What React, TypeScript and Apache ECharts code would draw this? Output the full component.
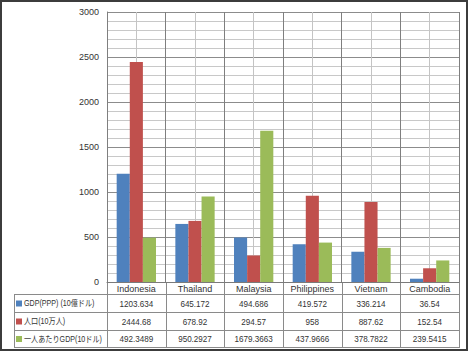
import React, { useEffect, useRef } from "react";
import * as echarts from "echarts";

const categories = ["Indonesia", "Thailand", "Malaysia", "Philippines", "Vietnam", "Cambodia"];
const seriesNames = ["GDP(PPP) (10億ドル)", "人口(10万人)", "一人あたりGDP(10ドル)"];
const gdpPPP = [1203.634, 645.172, 494.686, 419.572, 336.214, 36.54];
const population = [2444.68, 678.92, 294.57, 958, 887.62, 152.54];
const gdpPerCapita = [492.3489, 950.2927, 1679.3663, 437.9666, 378.7822, 239.5415];
const seriesValues = [gdpPPP, population, gdpPerCapita];
const colors = ["#4F81BD", "#C0504D", "#9BBB59"];
const yMin = 0;
const yMax = 3000;
const yInterval = 500;

const FONT = "'Liberation Sans Narrow', 'Liberation Sans', 'Noto Sans CJK JP', sans-serif";
const GRID_L = 107;
const GRID_R = 459;
const GRID_T = 12;
const GRID_B = 282;
const TABLE_L = 14;
const ROW_LINES = [294, 312, 330, 347];
const LINE_C = "#8a8a8a";
const TEXT_C = "#333333";

export default function App() {
  const ref = useRef<HTMLDivElement>(null);
  useEffect(() => {
    if (!ref.current) return;
    const chart = echarts.init(ref.current, null, { renderer: "svg" });
    const colW = (GRID_R - GRID_L) / categories.length;
    const graphics: any[] = [];
    graphics.push({
      type: "rect",
      shape: { x: 1, y: 1, width: 466, height: 349 },
      style: { fill: "none", stroke: "#3c3c3c", lineWidth: 2 },
      silent: true,
    });
    ROW_LINES.forEach((y) => {
      graphics.push({
        type: "line",
        shape: { x1: TABLE_L, y1: y + 0.5, x2: GRID_R, y2: y + 0.5 },
        style: { stroke: LINE_C, lineWidth: 1 },
      });
    });
    graphics.push({
      type: "line",
      shape: { x1: TABLE_L + 0.5, y1: ROW_LINES[0], x2: TABLE_L + 0.5, y2: ROW_LINES[3] + 1 },
      style: { stroke: LINE_C, lineWidth: 1 },
    });
    for (let i = 0; i <= categories.length; i++) {
      const x = Math.round(GRID_L + i * colW) + 0.5;
      graphics.push({
        type: "line",
        shape: { x1: x, y1: GRID_B, x2: x, y2: ROW_LINES[3] + 1 },
        style: { stroke: LINE_C, lineWidth: 1 },
      });
    }
    seriesNames.forEach((name, r) => {
      const cy = (ROW_LINES[r] + ROW_LINES[r + 1]) / 2 + 0.5;
      graphics.push({
        type: "rect",
        shape: { x: 16, y: cy - 3, width: 6, height: 6 },
        style: { fill: colors[r] },
      });
      graphics.push({
        type: "text",
        x: 24,
        y: cy,
        scaleX: 0.84,
        style: {
          text: name,
          fill: TEXT_C,
          font: `8.5px ${FONT}`,
          verticalAlign: "middle",
          align: "left",
        },
      });
      seriesValues[r].forEach((v, c) => {
        graphics.push({
          type: "text",
          x: GRID_L + (c + 0.5) * colW,
          y: cy,
          scaleX: 0.9,
          style: {
            text: String(v),
            fill: TEXT_C,
            font: `9px ${FONT}`,
            verticalAlign: "middle",
            align: "center",
          },
        });
      });
    });

    chart.setOption({
      animation: false,
      backgroundColor: "#ffffff",
      grid: { left: GRID_L, top: GRID_T, width: GRID_R - GRID_L, height: GRID_B - GRID_T, containLabel: false },
      xAxis: [
        {
          type: "value",
          position: "bottom",
          min: 0,
          max: categories.length * 2,
          interval: 1,
          axisLine: { show: false },
          axisTick: { show: false },
          axisLabel: { show: false },
          splitLine: { show: true, lineStyle: { color: "#c4c4c4", width: 1 } },
          z: 0,
        },
        {
          type: "category",
          position: "bottom",
          data: categories,
          boundaryGap: true,
          axisLine: { show: true, lineStyle: { color: "#7a7a7a", width: 1 } },
          axisTick: { show: false },
          axisLabel: {
            color: TEXT_C,
            fontSize: 9,
            fontFamily: FONT,
            margin: 2,
            interval: 0,
          },
          splitLine: { show: true, interval: 0, lineStyle: { color: "#7f7f7f", width: 1 } },
          z: 2,
        },
      ],
      yAxis: {
        type: "value",
        min: yMin,
        max: yMax,
        interval: yInterval,
        axisLine: { show: true, lineStyle: { color: "#7a7a7a", width: 1 } },
        axisTick: { show: false },
        axisLabel: {
          color: TEXT_C,
          fontSize: 9,
          fontFamily: FONT,
          margin: 8,
          formatter: (v: number) => String(v),
        },
        splitLine: { show: true, lineStyle: { color: "#8c8c8c", width: 1 } },
        minorTick: { show: false, splitNumber: 5 },
        minorSplitLine: { show: true, lineStyle: { color: "#c8c8c8", width: 1 } },
      },
      series: seriesNames.map((name, i) => ({
        name,
        type: "bar",
        xAxisIndex: 1,
        data: seriesValues[i],
        barGap: "0%",
        barCategoryGap: "33%",
        itemStyle: { color: colors[i] },
        z: 3,
      })),
      graphic: graphics,
    });
    return () => chart.dispose();
  }, []);
  return (
    <div
      ref={ref}
      style={{ position: "fixed", left: 0, top: 0, width: 470, height: 352 }}
    />
  );
}
